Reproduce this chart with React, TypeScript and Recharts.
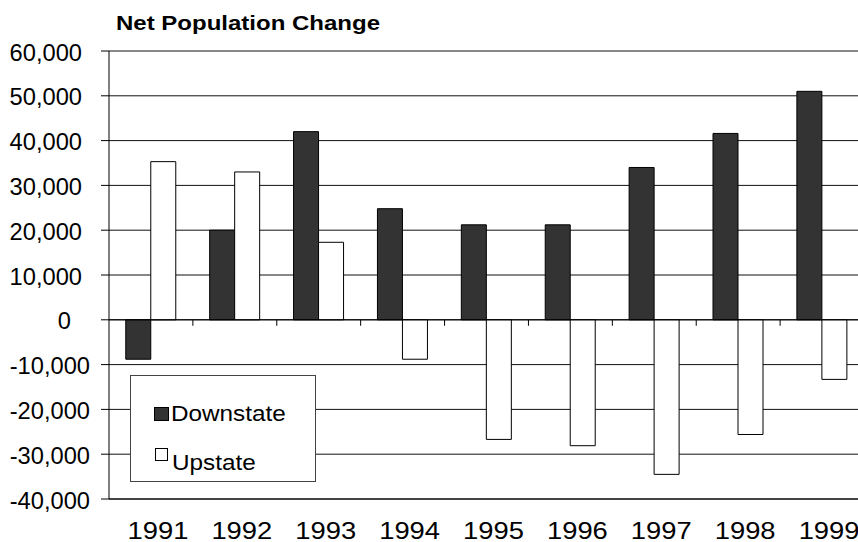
import React from 'react';
import { BarChart, Bar, XAxis, YAxis, CartesianGrid, ReferenceLine, Legend } from 'recharts';

const years = ['1991', '1992', '1993', '1994', '1995', '1996', '1997', '1998', '1999'];
const downstate = [-8800, 20000, 42000, 24800, 21200, 21200, 34000, 41600, 51000];
const upstate = [35300, 33000, 17300, -8800, -26700, -28100, -34500, -25600, -13300];
const yTicks = [-40000, -30000, -20000, -10000, 0, 10000, 20000, 30000, 40000, 50000, 60000];

const data = years.map((year, i) => ({ year, Downstate: downstate[i], Upstate: upstate[i] }));

const FONT = '"Liberation Sans", Arial, sans-serif';
const DARK = '#333333';

const fmt = (v: number) => (v < 0 ? '-' : '') + Math.abs(v).toLocaleString('en-US');

// Value labels: positives carry a trailing pad, zero sits further left
const YTick = (props: any) => {
  const { x, y, payload } = props;
  const v = payload.value as number;
  const dx = v > 0 ? -19 : v < 0 ? -11 : -30;
  return (
    <g transform={`translate(${x + dx},${y + 9.5}) scale(1.03,1)`}>
      <text x={0} y={0} textAnchor="end" fontFamily={FONT} fontSize={23} fill="#000">
        {fmt(v)}
      </text>
    </g>
  );
};

const XTick = (props: any) => {
  const { x, y, payload } = props;
  return (
    <g transform={`translate(${x + 7},${y + 40}) scale(1.14,1)`}>
      <text x={0} y={0} textAnchor="middle" fontFamily={FONT} fontSize={24} fill="#000">
        {payload.value}
      </text>
    </g>
  );
};

// Category axis on the zero line, with tick marks between the year groups
const ZeroAxis = (props: any) => {
  const { x1, y1, x2, y2 } = props;
  const n = years.length;
  const step = (x2 - x1) / n;
  const marks = [];
  for (let i = 1; i < n; i++) {
    const tx = x1 + i * step;
    marks.push(<line key={i} x1={tx} y1={y1} x2={tx} y2={y1 + 6} stroke="#000" strokeWidth={1} />);
  }
  return (
    <g>
      <line x1={x1} y1={y1} x2={x2} y2={y2} stroke="#000" strokeWidth={1} />
      {marks}
    </g>
  );
};

const LegendBox = (props: any) => {
  const items = props.payload || [];
  return (
    <svg width={187} height={108} style={{ display: 'block' }}>
      <rect x={0.5} y={0.5} width={185} height={106} fill="#fff" stroke="#444" strokeWidth={1} />
      {items.map((item: any, i: number) => {
        const filled = item.value === 'Downstate';
        const sq = filled
          ? { x: 24.5, y: 32.5, w: 14, h: 13 }
          : { x: 25.5, y: 73.5, w: 12, h: 12 };
        const tx = filled ? 41 : 42;
        const ty = filled ? 46 : 95;
        return (
          <g key={i}>
            <rect x={sq.x} y={sq.y} width={sq.w} height={sq.h} fill={filled ? DARK : '#fff'} stroke="#000" strokeWidth={1} />
            <g transform={`translate(${tx},${ty}) scale(1.08,1)`}>
              <text x={0} y={0} fontFamily={FONT} fontSize={22.5} fill="#000">
                {item.value}
              </text>
            </g>
          </g>
        );
      })}
    </svg>
  );
};

export default function App() {
  return (
    <div
      style={{
        position: 'fixed',
        left: 0,
        top: 0,
        width: 858,
        height: 542,
        overflow: 'hidden',
        background: '#fff',
      }}
    >
      <svg width={400} height={40} style={{ position: 'absolute', left: 0, top: 0, zIndex: 2 }}>
        <text
          x={116}
          y={29.5}
          fontFamily={FONT}
          fontWeight="bold"
          fontSize={20}
          textLength={264}
          lengthAdjust="spacingAndGlyphs"
          fill="#000"
        >
          Net Population Change
        </text>
      </svg>
      <BarChart
        width={880}
        height={542}
        data={data}
        margin={{ top: 51, right: 16, bottom: 0, left: 0 }}
        barCategoryGap="20%"
        barGap={0}
      >
        <CartesianGrid vertical={false} stroke="#111" strokeWidth={1} />
        <XAxis
          dataKey="year"
          height={43}
          axisLine={{ stroke: '#000', strokeWidth: 1 }}
          tickLine={false}
          tickSize={0}
          tickMargin={0}
          tick={<XTick />}
          interval={0}
        />
        <YAxis
          width={109}
          domain={[-40000, 60000]}
          ticks={yTicks}
          allowDataOverflow
          axisLine={{ stroke: '#000', strokeWidth: 1 }}
          tickLine={{ stroke: '#000', strokeWidth: 1 }}
          tickSize={8}
          tickMargin={0}
          tick={<YTick />}
        />
        <Bar dataKey="Downstate" fill={DARK} stroke="#000" strokeWidth={1} isAnimationActive={false} />
        <Bar dataKey="Upstate" fill="#fff" stroke="#000" strokeWidth={1} isAnimationActive={false} />
        <ReferenceLine y={0} stroke="#000" shape={<ZeroAxis />} />
        <Legend
          layout="horizontal"
          verticalAlign="middle"
          align="center"
          content={<LegendBox />}
          wrapperStyle={{ position: 'absolute', left: 130, top: 375, width: 187, height: 108 }}
        />
      </BarChart>
    </div>
  );
}
